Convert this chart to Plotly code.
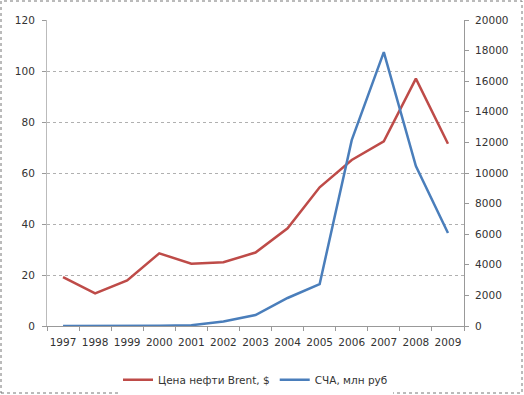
import plotly.graph_objects as go

years = ["1997", "1998", "1999", "2000", "2001", "2002", "2003", "2004", "2005", "2006", "2007", "2008", "2009"]
brent = [19.2, 12.8, 17.9, 28.5, 24.4, 25.0, 28.8, 38.3, 54.4, 65.1, 72.4, 97.0, 71.5]
scha = [0, 0, 0, 20, 50, 290, 720, 1830, 2740, 12150, 17900, 10450, 6080]

W, H = 524, 395
L, R, T, B = 47, 60, 20, 69
pw, ph = W - L - R, H - T - B

fig = go.Figure()
fig.add_trace(go.Scatter(x=years, y=brent, mode="lines", name="Цена нефти Brent, $",
                         line=dict(color="#BE4B48", width=2.5), yaxis="y"))
fig.add_trace(go.Scatter(x=years, y=scha, mode="lines", name="СЧА, млн руб",
                         line=dict(color="#4A7EBB", width=2.5), yaxis="y2"))

font = dict(family="DejaVu Sans, Verdana, sans-serif", size=10.5, color="#333333")

fig.update_layout(
    width=W, height=H,
    margin=dict(l=L, r=R, t=T, b=B, autoexpand=False),
    paper_bgcolor="white", plot_bgcolor="white",
    font=font,
    showlegend=True,
    legend=dict(orientation="h", x=0.5, xanchor="center", y=-0.128, yanchor="top",
                font=font, itemwidth=30),
    xaxis=dict(type="category", tickson="boundaries", ticks="outside", ticklen=4,
               range=[-0.5, len(years) - 0.5], tickangle=0, ticklabelstandoff=6,
               tickcolor="#999999", showline=True, linecolor="#999999", showgrid=False,
               tickfont=font),
    yaxis=dict(range=[0, 120], dtick=20, showgrid=True, gridcolor="#b0b0b0", griddash="dot",
               showline=True, linecolor="#bbbbbb", ticks="outside", ticklen=4,
               ticklabelstandoff=5,
               tickcolor="#999999", zeroline=False, tickfont=font),
    yaxis2=dict(range=[0, 20000], dtick=2000, overlaying="y", side="right", showgrid=False,
                showline=True, linecolor="#999999", ticks="outside", ticklen=4,
                tickformat="d", ticklabelstandoff=4,
                tickcolor="#999999", zeroline=False, tickfont=font),
)

fig.add_shape(type="rect", xref="paper", yref="paper",
              x0=(1 - L) / pw, x1=(522 - L) / pw,
              y0=(T + ph - 393) / ph, y1=(T + ph - 1) / ph,
              line=dict(color="#777777", width=1, dash="dot"), layer="below")

fig.write_html("out.html", config={"displayModeBar": False},
               post_script="document.body.style.margin='0';")
